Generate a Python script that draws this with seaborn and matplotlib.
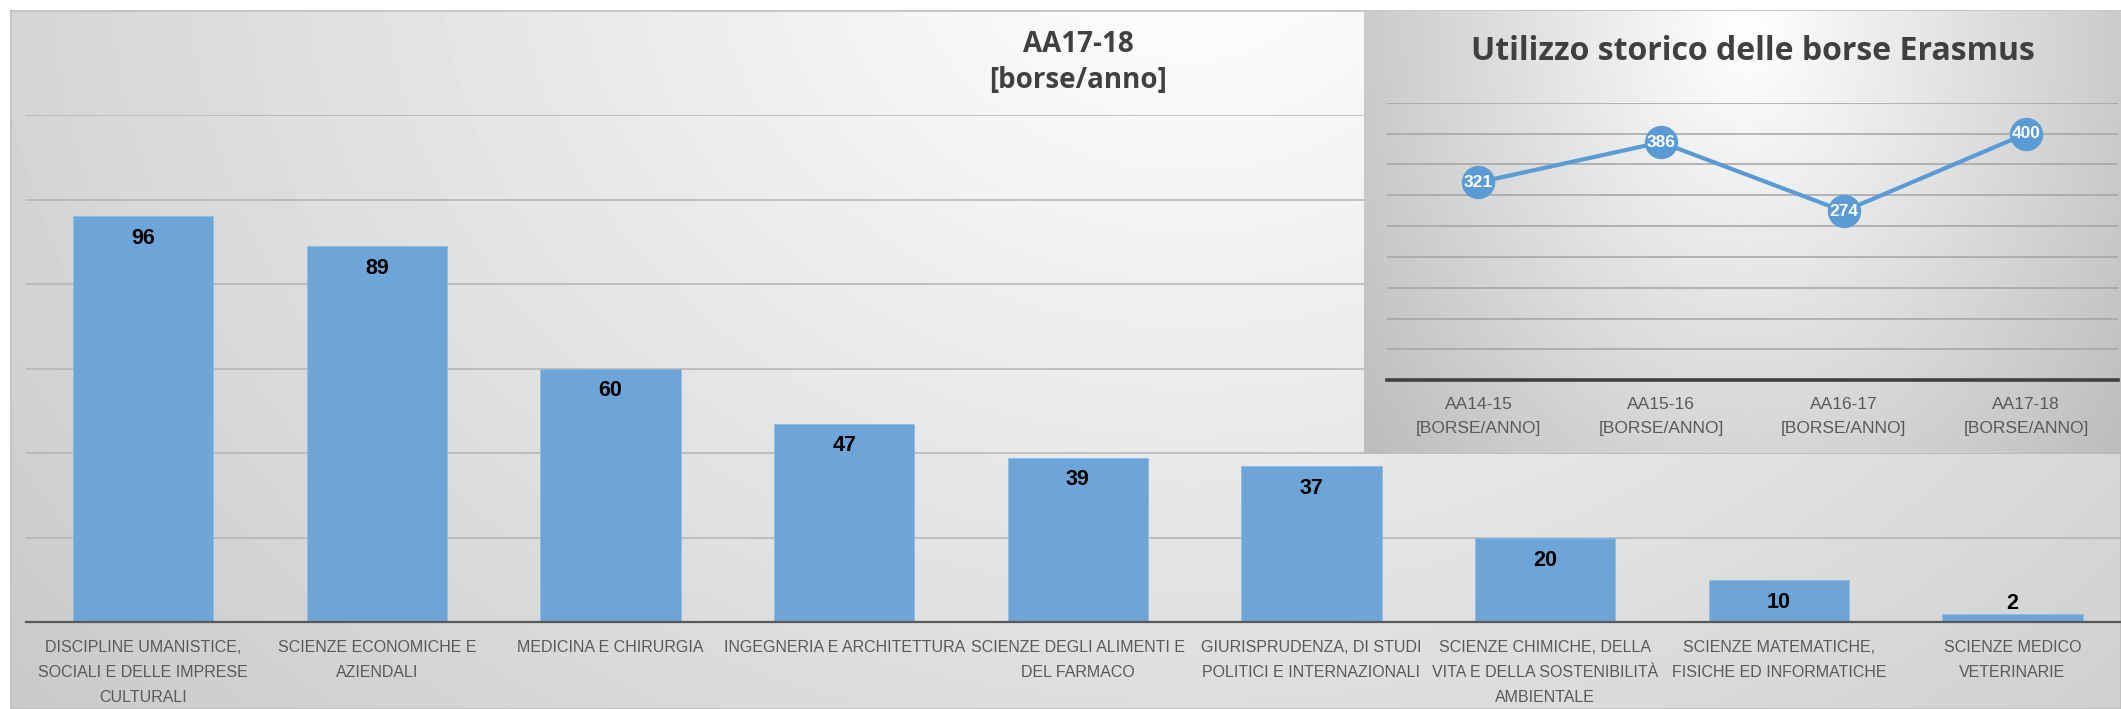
import numpy as np
import pandas as pd
import seaborn as sns
from matplotlib import pyplot as plt
from matplotlib import font_manager

sns.set_theme(style="white")

# narrow font for the Excel-like labels, if it is there
names = {f.name for f in font_manager.fontManager.ttflist}
narrow = "Liberation Sans Narrow" if "Liberation Sans Narrow" in names else "Liberation Sans"
plt.rcParams["font.family"] = [narrow, "DejaVu Sans"]
head_font = ["Open Sans", "DejaVu Sans"]

# ---- data ----
dipartimenti = [
    "DISCIPLINE UMANISTICE,\nSOCIALI E DELLE IMPRESE\nCULTURALI",
    "SCIENZE ECONOMICHE E\nAZIENDALI",
    "MEDICINA E CHIRURGIA",
    "INGEGNERIA E ARCHITETTURA",
    "SCIENZE DEGLI ALIMENTI E\nDEL FARMACO",
    "GIURISPRUDENZA, DI STUDI\nPOLITICI E INTERNAZIONALI",
    "SCIENZE CHIMICHE, DELLA\nVITA E DELLA SOSTENIBILITÀ\nAMBIENTALE",
    "SCIENZE MATEMATICHE,\nFISICHE ED INFORMATICHE",
    "SCIENZE MEDICO\nVETERINARIE",
]
borse_1718 = [96, 89, 60, 47, 39, 37, 20, 10, 2]

anni = ["AA14-15\n[BORSE/ANNO]", "AA15-16\n[BORSE/ANNO]",
        "AA16-17\n[BORSE/ANNO]", "AA17-18\n[BORSE/ANNO]"]
borse_storico = [321, 386, 274, 400]

# layout is measured on a 1568x524 copy of the reference
W, H = 1568, 524
def fx(x):
    return x / W
def fy(y):
    return 1 - y / H

def gradient(x0, y0, x1, y1, cx, cy, rx, ry, depth, cap):
    xs = np.linspace(x0, x1, 400)
    ys = np.linspace(y0, y1, 200)
    X, Y = np.meshgrid(xs, ys)
    r = np.sqrt(((X - cx) / rx) ** 2 + ((Y - cy) / ry) ** 2)
    return 1 - depth * np.minimum(r, cap)

fig = plt.figure(figsize=(21.21, 7.09), dpi=100)
fig.patch.set_facecolor("white")

# chart area background
bg = fig.add_axes([fx(8), 0, 1 - fx(8), fy(8)])
bg.imshow(gradient(8, 8, W, H, 880, -40, 950, 760, 0.18, 1.3), cmap="gray",
          vmin=0, vmax=1, aspect="auto", interpolation="bicubic")
bg.set_xticks([])
bg.set_yticks([])
for s in bg.spines.values():
    s.set_color("#bdbdbd")
    s.set_linewidth(1.2)

# ---- main bar chart ----
ax = fig.add_axes([fx(19.4), fy(460), fx(1554.8), (460 - 85) / H])
df = pd.DataFrame({"dip": dipartimenti, "borse": borse_1718})
sns.barplot(data=df, x="dip", y="borse", color="#6ea5d9", saturation=1,
            width=0.6, ax=ax, zorder=2, edgecolor="#8dbbe6", linewidth=0.6)
ax.set_facecolor("none")
ax.set_xlim(-0.5, 8.5)
ax.set_ylim(0, 120)
ax.set_yticks(range(0, 121, 20))
ax.yaxis.grid(True, color="#b3b3b3", lw=1.1)
ax.set_axisbelow(True)
ax.tick_params(axis="y", left=False, labelleft=False)
ax.tick_params(axis="x", length=0, pad=13)
ax.set_xticks(range(len(dipartimenti)))
ax.set_xticklabels(dipartimenti, fontsize=11.5, color="#595959", linespacing=1.8)
for s in ["top", "left", "right"]:
    ax.spines[s].set_visible(False)
ax.spines["bottom"].set_color("#595959")
ax.spines["bottom"].set_linewidth(1.6)
ax.set_xlabel("")
ax.set_ylabel("")

for p, v in zip(ax.patches, borse_1718):
    off = -16 if v > 7 else 7.5
    ax.annotate(str(v), (p.get_x() + p.get_width() / 2, v), xytext=(0, off),
                textcoords="offset points", ha="center", va="center",
                fontsize=15.5, fontweight="bold", color="black")

fig.text(fx(797), fy(46), "AA17-18\n[borse/anno]", ha="center", va="center",
         fontsize=20, fontweight="bold", color="#404040", family=head_font,
         linespacing=1.3)

# ---- inset: historic line ----
ibg = fig.add_axes([fx(1008), fy(335), 1 - fx(1008), fy(8) - fy(335)])
ibg.imshow(gradient(1008, 8, W, 335, 1290, 20, 300, 420, 0.22, 1.2), cmap="gray",
           vmin=0, vmax=1, aspect="auto", interpolation="bicubic")
ibg.axis("off")

ins = fig.add_axes([fx(1025.5), fy(281), fx(540), (281 - 76) / H])
sns.pointplot(x=anni, y=borse_storico, ax=ins, color="#5b9bd5", errorbar=None,
              markersize=24, markeredgewidth=0, linewidth=3)
ins.set_facecolor("none")
ins.set_xlim(-0.5, 3.5)
ins.set_ylim(0, 450)
ins.set_yticks(range(0, 451, 50))
ins.yaxis.grid(True, color="#a3a3a3", lw=1.1)
ins.set_axisbelow(True)
ins.tick_params(axis="y", left=False, labelleft=False)
ins.tick_params(axis="x", length=0, pad=12)
ins.set_xticks(range(len(anni)))
ins.set_xticklabels(anni, fontsize=12.5, color="#595959", linespacing=1.75)
for s in ["top", "left", "right"]:
    ins.spines[s].set_visible(False)
ins.spines["bottom"].set_color("#404040")
ins.spines["bottom"].set_linewidth(2.6)
ins.set_xlabel("")
ins.set_ylabel("")

for i, v in enumerate(borse_storico):
    ins.text(i, v, str(v), ha="center", va="center", fontsize=12.5,
             fontweight="bold", color="white", zorder=10)

fig.text(fx(1296), fy(38), "Utilizzo storico delle borse Erasmus", ha="center",
         va="center", fontsize=23, fontweight="bold", color="#404040",
         family=head_font)

fig.savefig("out.png", dpi=100)
